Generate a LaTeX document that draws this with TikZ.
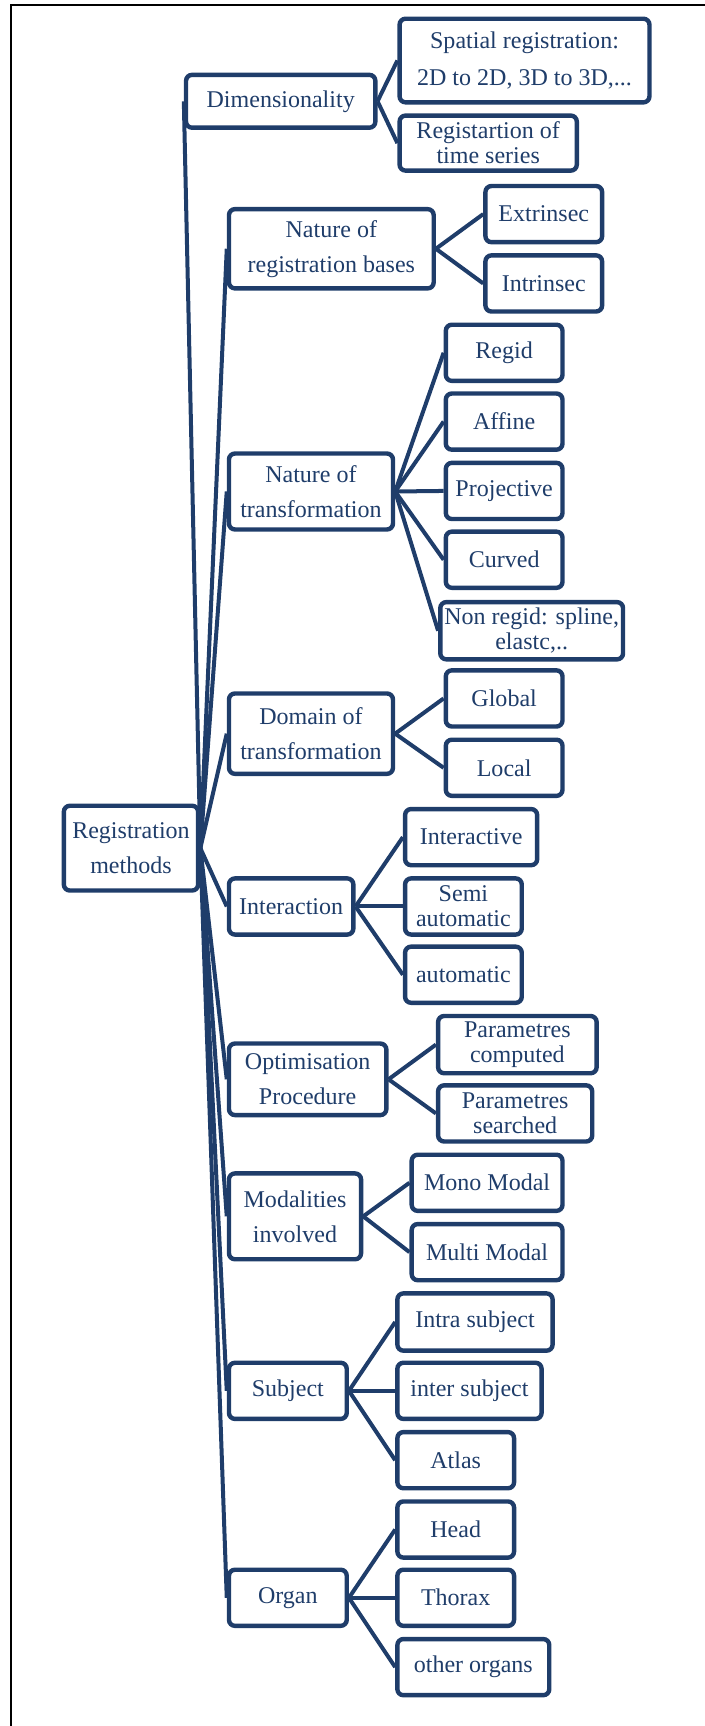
\documentclass[tikz,border=0pt]{standalone}
\usepackage{fontspec}
\setmainfont{Liberation Serif}
\definecolor{navy}{RGB}{31,61,106}
\tikzset{
  box/.style 2 args={draw=navy, line width=2.2pt, rounded corners=3pt, fill=white,
    text=navy, align=center, inner sep=0pt, font=\fontsize{12}{14}\selectfont,
    minimum width=#1*0.55pt, minimum height=#2*0.55pt},
  wide/.style={font=\fontsize{12}{17.5}\selectfont},
  tight/.style={font=\fontsize{12}{12.5}\selectfont},
  link/.style={navy, line width=2pt}
}
\begin{document}
\begin{tikzpicture}[x=0.55pt, y=-0.55pt]
\useasboundingbox (0,0) rectangle (640,1568);
% frame
\draw[line width=1pt] (640,4.5) -- (10,4.5) -- (10,1568);

% root
\node[box={122}{77}, wide] (root) at (119,770.5) {Registration\\methods};

% first level
\node[box={172}{48}] (dim) at (255,92) {Dimensionality};
\node[box={186}{72}, wide] (bases) at (301,226) {Nature of\\registration bases};
\node[box={149}{69}, wide] (ntrans) at (282.5,446.5) {Nature of\\transformation};
\node[box={149}{73}, wide] (domain) at (282.5,666.5) {Domain of\\transformation};
\node[box={113}{51}] (interaction) at (264.5,823.5) {Interaction};
\node[box={143}{65}, wide] (optim) at (279.5,980.5) {Optimisation\\Procedure};
\node[box={120}{78}, wide] (modal) at (268,1105) {Modalities\\involved};
\node[box={107}{51}] (subject) at (261.5,1263.5) {Subject};
\node[box={107}{51}] (organ) at (261.5,1451.5) {Organ};

% second level
\node[box={227}{76}, font=\fontsize{12}{18.5}\selectfont] (spat) at (476.5,55) {Spatial registration:\\2D to 2D, 3D to 3D,...};
\node[box={161}{50}, tight] (tser) at (443.5,130) {Registartion of\\time series};
\node[box={106}{51}] (extr) at (494,194.5) {Extrinsec};
\node[box={106}{51}] (intr) at (494,257.5) {Intrinsec};
\node[box={106}{51}] (regid) at (458,320.5) {Regid};
\node[box={106}{51}] (affine) at (458,383) {Affine};
\node[box={106}{51}] (proj) at (458,446) {Projective};
\node[box={106}{51}] (curved) at (458,508.5) {Curved};
\node[box={166}{52}, tight] (nonreg) at (483,573) {Non regid: spline,\\elastc,..};
\node[box={106}{51}] (global) at (458,634.5) {Global};
\node[box={106}{51}] (local) at (458,697.5) {Local};
\node[box={120}{51}] (interact) at (428,760.5) {Interactive};
\node[box={106}{51}, tight] (semi) at (421,823.5) {Semi\\automatic};
\node[box={106}{51}] (auto) at (421,885.5) {automatic};
\node[box={144}{52}, tight] (pcomp) at (470,949) {Parametres\\computed};
\node[box={140}{51}, tight] (psearch) at (468,1011.5) {Parametres\\searched};
\node[box={137}{51}] (mono) at (442.5,1074.5) {Mono Modal};
\node[box={137}{51}] (multi) at (442.5,1137.5) {Multi Modal};
\node[box={141}{52}] (intra) at (431.5,1201) {Intra subject};
\node[box={131}{51}] (intersub) at (426.5,1263.5) {inter subject};
\node[box={106}{51}] (atlas) at (414,1326.5) {Atlas};
\node[box={106}{51}] (head) at (414,1389.5) {Head};
\node[box={106}{51}] (thorax) at (414,1451.5) {Thorax};
\node[box={138}{51}] (other) at (430,1514.5) {other organs};

% connectors
\foreach \c in {dim,bases,ntrans,domain,interaction,optim,modal,subject,organ}
  \draw[link] (root.east) -- (\c.west);
\foreach \p/\c in {dim/spat,dim/tser,bases/extr,bases/intr,
    ntrans/regid,ntrans/affine,ntrans/proj,ntrans/curved,ntrans/nonreg,
    domain/global,domain/local,interaction/interact,interaction/semi,interaction/auto,
    optim/pcomp,optim/psearch,modal/mono,modal/multi,
    subject/intra,subject/intersub,subject/atlas,organ/head,organ/thorax,organ/other}
  \draw[link] (\p.east) -- (\c.west);
\end{tikzpicture}
\end{document}
